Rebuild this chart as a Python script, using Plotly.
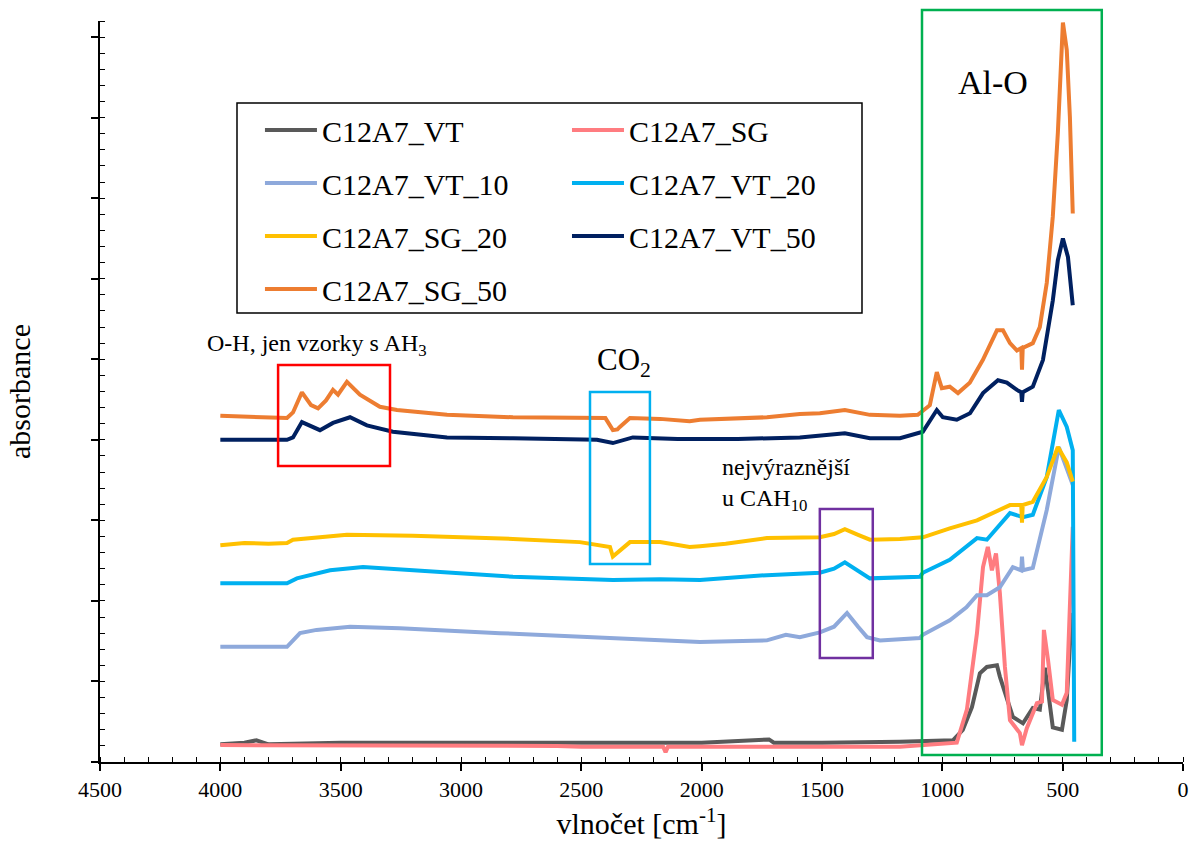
import plotly.graph_objects as go

# ---------------- data ----------------
series_names = ["C12A7_VT", "C12A7_SG", "C12A7_VT_10", "C12A7_VT_20",
                "C12A7_SG_20", "C12A7_VT_50", "C12A7_SG_50"]
series_colors = ["#595959", "#FF7C80", "#8EA9DB", "#00B0F0",
                 "#FFC000", "#002060", "#ED7D31"]
series_legend = ["legend", "legend2", "legend", "legend2",
                 "legend", "legend2", "legend"]

vt_x = [4000, 3900, 3850, 3800, 3500, 3000, 2500, 2000, 1720, 1700, 1500, 1176,
        956, 915, 877, 844, 815, 773, 761, 732, 707, 665, 624, 595, 574, 561,
        541, 503, 483, 462]
vt_y = [0.22, 0.24, 0.27, 0.22, 0.24, 0.24, 0.24, 0.24, 0.28, 0.24, 0.24, 0.25,
        0.27, 0.40, 0.68, 1.10, 1.18, 1.20, 1.06, 0.77, 0.56, 0.48, 0.67, 0.65,
        1.17, 0.89, 0.43, 0.40, 0.77, 1.85]

sg_x = [4000, 3500, 3000, 2600, 2500, 2160, 2150, 2140, 2000, 1500, 1176, 940,
        898, 856, 831, 811, 794, 777, 761, 740, 719, 678, 669, 649, 607, 586,
        578, 561, 541, 503, 483, 458]
sg_y = [0.21, 0.21, 0.21, 0.20, 0.19, 0.19, 0.12, 0.19, 0.19, 0.19, 0.19, 0.24,
        0.65, 1.60, 2.42, 2.67, 2.38, 2.59, 2.10, 1.18, 0.52, 0.36, 0.21, 0.42,
        0.73, 0.75, 1.64, 1.27, 0.77, 0.71, 0.86, 2.92]

vt10_x = [4000, 3723, 3669, 3600, 3461, 3254, 2838, 2423, 2007, 1729, 1650, 1592,
          1509, 1450, 1396, 1350, 1313, 1259, 1093, 1081, 969, 900, 856, 815, 761,
          707, 672, 669, 665, 624, 566, 516, 458]
vt10_y = [1.43, 1.43, 1.60, 1.64, 1.68, 1.66, 1.60, 1.54, 1.49, 1.51, 1.58, 1.55,
          1.61, 1.68, 1.85, 1.68, 1.55, 1.51, 1.54, 1.58, 1.76, 1.92, 2.07, 2.07,
          2.17, 2.42, 2.38, 2.55, 2.38, 2.41, 3.13, 3.91, 3.44]

vt20_x = [4000, 3723, 3682, 3544, 3407, 3200, 2784, 2369, 2173, 2007, 1729, 1509,
          1450, 1405, 1350, 1301, 1093, 1081, 969, 856, 815, 719, 665, 624, 566,
          516, 483, 458, 452]
vt20_y = [2.22, 2.22, 2.28, 2.38, 2.42, 2.38, 2.30, 2.26, 2.27, 2.26, 2.32, 2.35,
          2.40, 2.48, 2.38, 2.28, 2.30, 2.35, 2.51, 2.78, 2.76, 3.09, 3.04, 3.07,
          3.54, 4.37, 4.16, 3.87, 0.25]

sg20_x = [4000, 3900, 3800, 3723, 3698, 3615, 3474, 3200, 2784, 2506, 2381, 2369,
          2340, 2298, 2173, 2050, 2007, 1900, 1729, 1509, 1450, 1405, 1350, 1301,
          1176, 1093, 1081, 969, 856, 719, 672, 669, 666, 624, 566, 520, 483, 458]
sg20_y = [2.69, 2.72, 2.71, 2.72, 2.76, 2.78, 2.82, 2.81, 2.77, 2.73, 2.67, 2.55,
          2.63, 2.73, 2.73, 2.67, 2.68, 2.71, 2.78, 2.79, 2.83, 2.89, 2.82, 2.76,
          2.77, 2.78, 2.79, 2.90, 3.00, 3.19, 3.19, 2.97, 3.19, 3.23, 3.54, 3.91,
          3.72, 3.48]

vt50_x = [4000, 3850, 3723, 3698, 3661, 3586, 3532, 3461, 3391, 3283, 3058, 2784,
          2435, 2369, 2286, 2100, 1850, 1592, 1405, 1301, 1176, 1081, 1023, 998,
          940, 885, 831, 769, 732, 690, 672, 669, 666, 624, 582, 541, 520, 499,
          478, 458]
vt50_y = [4.00, 4.00, 4.00, 4.03, 4.22, 4.12, 4.21, 4.28, 4.18, 4.10, 4.03, 4.02,
          4.00, 3.96, 4.03, 4.01, 4.01, 4.03, 4.08, 4.02, 4.02, 4.10, 4.37, 4.28,
          4.25, 4.33, 4.58, 4.74, 4.71, 4.62, 4.59, 4.47, 4.59, 4.66, 4.99, 5.73,
          6.23, 6.50, 6.27, 5.67]

sg50_x = [4000, 3850, 3723, 3698, 3661, 3623, 3594, 3561, 3532, 3511, 3474, 3420,
          3337, 3266, 3058, 2784, 2477, 2400, 2369, 2350, 2340, 2298, 2173, 2050,
          2007, 1850, 1729, 1592, 1509, 1405, 1301, 1176, 1102, 1052, 1023, 1002,
          969, 935, 886, 832, 773, 748, 719, 690, 672, 669, 666, 624, 595, 566,
          541, 520, 499, 483, 470, 458]
sg50_y = [4.30, 4.29, 4.27, 4.34, 4.59, 4.43, 4.39, 4.49, 4.62, 4.56, 4.72, 4.56,
          4.41, 4.37, 4.31, 4.28, 4.28, 4.27, 4.12, 4.13, 4.16, 4.27, 4.26, 4.23,
          4.25, 4.27, 4.28, 4.32, 4.33, 4.37, 4.31, 4.30, 4.31, 4.43, 4.84, 4.64,
          4.66, 4.58, 4.71, 4.99, 5.36, 5.36, 5.20, 5.11, 5.14, 4.87, 5.14, 5.20,
          5.40, 5.95, 6.77, 7.81, 9.18, 8.84, 8.01, 6.81]

series_x = [vt_x, sg_x, vt10_x, vt20_x, sg20_x, vt50_x, sg50_x]
series_y = [vt_y, sg_y, vt10_y, vt20_y, sg20_y, vt50_y, sg50_y]

x_ticks = [4500, 4000, 3500, 3000, 2500, 2000, 1500, 1000, 500, 0]

# highlighted regions (wavenumber ranges, absorbance ranges)
oh_box = dict(x0=3760, x1=3295, y0=3.674, y1=4.928, color="#FF0000")
co2_box = dict(x0=2464, x1=2215, y0=2.458, y1=4.593, color="#00B0F0")
cah_box = dict(x0=1509, x1=1289, y0=1.29, y1=3.14, color="#7030A0")

SERIF = "Liberation Serif"

fig = go.Figure()
for name, col, lg, xs, ys in zip(series_names, series_colors, series_legend,
                                 series_x, series_y):
    fig.add_trace(go.Scatter(
        x=xs, y=ys, mode="lines", name=name, legend=lg, legendgroup=name,
        line=dict(color=col, width=4), showlegend=True))

shapes = []
for b in (oh_box, co2_box, cah_box):
    shapes.append(dict(type="rect", xref="x", yref="y", x0=b["x0"], x1=b["x1"],
                       y0=b["y0"], y1=b["y1"], line=dict(color=b["color"], width=2.5),
                       fillcolor="rgba(0,0,0,0)"))
shapes.append(dict(type="rect", xref="paper", yref="paper", x0=0.759, x1=0.925,
                   y0=0.0094, y1=1.0148, line=dict(color="#00B050", width=2.5),
                   fillcolor="rgba(0,0,0,0)"))
shapes.append(dict(type="rect", xref="paper", yref="paper", x0=0.1265, x1=0.7036,
                   y0=0.6059, y1=0.8893, line=dict(color="black", width=1.5),
                   fillcolor="white", layer="below"))

annotations = [
    dict(x=790, y=8.44, xref="x", yref="y", text="Al-O", showarrow=False,
         font=dict(family=SERIF, size=34, color="black")),
    dict(x=2323, y=4.965, xref="x", yref="y", text="CO<sub>2</sub>", showarrow=False,
         font=dict(family=SERIF, size=31, color="black")),
    dict(x=4064, y=5.176, xref="x", yref="y", xanchor="left",
         text="O-H, jen vzorky s AH<sub>3</sub>", showarrow=False,
         font=dict(family=SERIF, size=24, color="black")),
    dict(x=1924, y=3.44, xref="x", yref="y", xanchor="left", align="left",
         text="nejvýraznější<br>u CAH<sub>10</sub>", showarrow=False,
         font=dict(family=SERIF, size=24, color="black")),
]

legend_common = dict(bgcolor="rgba(0,0,0,0)", borderwidth=0, xanchor="left",
                     yanchor="top", tracegroupgap=11, itemwidth=52,
                     font=dict(family=SERIF, size=30, color="black"))

fig.update_layout(
    width=1190, height=849,
    margin=dict(l=100, r=7, t=21, b=87, autoexpand=False),
    paper_bgcolor="white", plot_bgcolor="white",
    font=dict(family=SERIF, color="black"),
    shapes=shapes, annotations=annotations,
    legend=dict(x=0.1477, y=0.888, **legend_common),
    legend2=dict(x=0.4312, y=0.888, **legend_common),
    xaxis=dict(range=[4500, 0], tickmode="array", tickvals=x_ticks,
               ticktext=[str(v) for v in x_ticks], automargin=False,
               showline=True, linecolor="black", linewidth=1.5,
               ticks="outside", ticklen=7, tickwidth=1.5, tickcolor="black",
               minor=dict(dtick=100, tick0=0, ticks="inside", ticklen=5,
                          tickwidth=1.2, tickcolor="black", showgrid=False),
               showgrid=False, zeroline=False,
               tickfont=dict(family=SERIF, size=22, color="black"),
               title=dict(text="vlnočet [cm<sup>-1</sup>]", standoff=12,
                          font=dict(family=SERIF, size=30, color="black"))),
    yaxis=dict(range=[0, 9.2], dtick=1, tick0=0, showticklabels=False,
               automargin=False,
               showline=True, linecolor="black", linewidth=1.5,
               ticks="outside", ticklen=7, tickwidth=1.5, tickcolor="black",
               minor=dict(dtick=0.2, ticks="inside", ticklen=5, tickwidth=1.2,
                          tickcolor="black", showgrid=False),
               showgrid=False, zeroline=False,
               title=dict(text="absorbance", standoff=52,
                          font=dict(family=SERIF, size=30, color="black"))),
)

fig.write_html("out.html")
